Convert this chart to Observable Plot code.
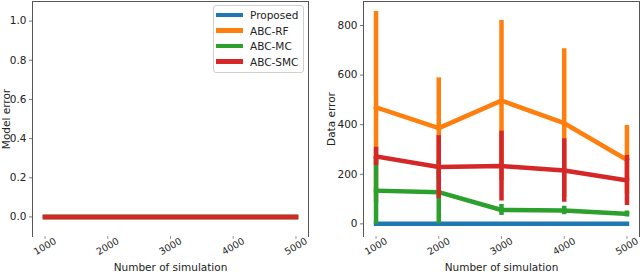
<!DOCTYPE html>
<html>
<head>
<meta charset="utf-8">
<script src="https://cdn.jsdelivr.net/npm/d3@7"></script>
<script src="https://cdn.jsdelivr.net/npm/@observablehq/plot@0.6"></script>
<style>
  html, body { margin: 0; padding: 0; background: #fff; }
  #wrap { position: relative; width: 640px; height: 272px; display: flex; font-family: "DejaVu Sans", sans-serif; }
  #wrap svg { display: block; }
  .legend { position: absolute; left: 213px; top: 5px; width: 89px; height: 66px; border: 1px solid #d0d0d0; border-radius: 3px; background: rgba(255,255,255,0.8); font: 10.5px "DejaVu Sans", sans-serif; color: #222; }
  .legend .row { position: absolute; left: 0; height: 14px; display: flex; align-items: center; }
  .legend .sw { width: 27px; height: 4.5px; margin-left: 2px; margin-right: 7px; }
</style>
</head>
<body>
<div id="wrap"></div>
<script>
// ---- data ----
const simulations = [1000, 2000, 3000, 4000, 5000];
const seriesNames = ["Proposed", "ABC-RF", "ABC-MC", "ABC-SMC"];
const seriesColors = ["#1f77b4", "#ff7f0e", "#2ca02c", "#d62728"];

// Model error (left panel)
const modelMean = {
  "Proposed": [0, 0, 0, 0, 0],
  "ABC-RF":   [0, 0, 0, 0, 0],
  "ABC-MC":   [0, 0, 0, 0, 0],
  "ABC-SMC":  [0, 0, 0, 0, 0]
};
const modelStd = {
  "Proposed": [0, 0, 0, 0, 0],
  "ABC-RF":   [0, 0, 0, 0, 0],
  "ABC-MC":   [0, 0, 0, 0, 0],
  "ABC-SMC":  [0, 0, 0, 0, 0]
};

// Data error (right panel)
const dataMean = {
  "Proposed": [0, 0, 0, 0, 0],
  "ABC-RF":   [470, 386, 497, 406, 258],
  "ABC-MC":   [134, 128, 56, 54, 40],
  "ABC-SMC":  [272, 229, 233, 215, 175]
};
const dataStd = {
  "Proposed": [0, 0, 0, 0, 0],
  "ABC-RF":   [387, 203, 323, 300, 139],
  "ABC-MC":   [136, 128, 22, 17, 12],
  "ABC-SMC":  [37, 127, 141, 128, 101]
};

const modelTicks = [0, 0.2, 0.4, 0.6, 0.8, 1.0];
const dataTicks = [0, 200, 400, 600, 800];

const xLabel = "Number of simulation";

function rows(meanObj, stdObj) {
  return seriesNames.flatMap(s => simulations.map((n, i) => ({
    series: s, n, mean: meanObj[s][i], lo: meanObj[s][i] - stdObj[s][i], hi: meanObj[s][i] + stdObj[s][i]
  })));
}

const font = "DejaVu Sans, sans-serif";
const ink = "#222";
const spine = "#555";

function panel({data, yDomain, yTicks, yFormat, yLabel, marginLeft, marginRight, yLabelOffset}) {
  const colorOf = s => seriesColors[seriesNames.indexOf(s)];
  const seriesMarks = seriesNames.flatMap(s => {
    const d = data.filter(r => r.series === s);
    return [
      Plot.ruleX(d, {x: "n", y1: "lo", y2: "hi", stroke: colorOf(s), strokeWidth: 4.5}),
      Plot.line(d, {x: "n", y: "mean", stroke: colorOf(s), strokeWidth: 4.5, strokeLinecap: "square", strokeLinejoin: "round"})
    ];
  });
  return Plot.plot({
    width: 320, height: 272,
    marginLeft, marginRight, marginTop: 1, marginBottom: 36,
    style: {fontFamily: font, fontSize: "10.5px", color: ink, background: "#fff"},
    x: {domain: [800, 5200]},
    y: {domain: yDomain},
    marks: [
      ...seriesMarks,
      Plot.frame({anchor: "left", stroke: spine}),
      Plot.frame({anchor: "right", stroke: spine}),
      Plot.frame({anchor: "top", stroke: spine}),
      Plot.axisY({ticks: yTicks, tickFormat: yFormat, tickSize: 3, tickPadding: 3, stroke: "#777", fill: ink, fontSize: "10.5px",
        label: yLabel, labelAnchor: "center", labelArrow: "none", labelOffset: yLabelOffset}),
      Plot.axisX({ticks: simulations, tickFormat: d => String(d), tickSize: 3, tickPadding: 7, tickRotate: -30,
        textAnchor: "middle", lineAnchor: "middle", dx: 0, stroke: "#999", fill: ink, fontSize: "9.5px",
        label: null}),
      Plot.axisX({ticks: [], label: xLabel, labelAnchor: "center", labelArrow: "none", labelOffset: 34, fill: ink, fontSize: "10.5px", tickSize: 0})
    ]
  });
}

const left = panel({
  data: rows(modelMean, modelStd), yDomain: [-0.1, 1.1], yTicks: modelTicks, yFormat: d3.format(".1f"),
  yLabel: "Model error", marginLeft: 32, marginRight: 12, yLabelOffset: 30
});
const right = panel({
  data: rows(dataMean, dataStd), yDomain: [-51, 897], yTicks: dataTicks, yFormat: d => String(d),
  yLabel: "Data error", marginLeft: 43, marginRight: 1, yLabelOffset: 36
});

const wrap = document.getElementById("wrap");
wrap.appendChild(left);
wrap.appendChild(right);

// legend (inside left panel)
const legend = document.createElement("div");
legend.className = "legend";
seriesNames.forEach((s, i) => {
  const row = document.createElement("div");
  row.className = "row";
  row.style.top = (2 + i * 15.5) + "px";
  const sw = document.createElement("span");
  sw.className = "sw";
  sw.style.background = seriesColors[i];
  const t = document.createElement("span");
  t.textContent = s;
  row.appendChild(sw);
  row.appendChild(t);
  legend.appendChild(row);
});
wrap.appendChild(legend);
</script>
</body>
</html>
